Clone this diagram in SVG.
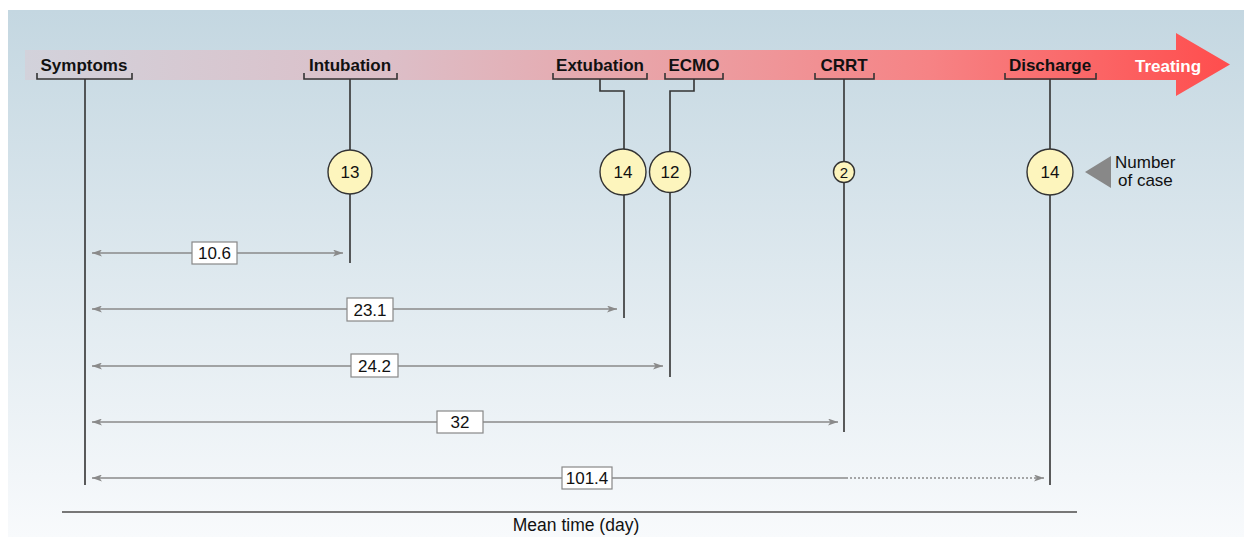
<svg xmlns="http://www.w3.org/2000/svg" width="1244" height="537" viewBox="0 0 1244 537">
<defs>
<linearGradient id="bg" x1="0" y1="0" x2="0" y2="1">
<stop offset="0" stop-color="#c4d7e1"/>
<stop offset="1" stop-color="#f8fafc"/>
</linearGradient>
<linearGradient id="band" gradientUnits="userSpaceOnUse" x1="25" y1="0" x2="1230" y2="0">
<stop offset="0" stop-color="#d2d2db"/>
<stop offset="0.3" stop-color="#dcbfc8"/>
<stop offset="0.55" stop-color="#eb9fa3"/>
<stop offset="0.75" stop-color="#f68385"/>
<stop offset="1" stop-color="#ff4d4d"/>
</linearGradient>
<marker id="ah" viewBox="0 0 10 7" refX="10" refY="3.5" markerWidth="10" markerHeight="7" markerUnits="userSpaceOnUse" orient="auto-start-reverse">
<path d="M0,0 L10,3.5 L0,7 L2.5,3.5 z" fill="#8a8a8a"/>
</marker>
</defs>
<style>
.lbl{font-family:"Liberation Sans",Arial,sans-serif;font-weight:bold;font-size:17px;fill:#111;text-anchor:middle}
.num{font-family:"Liberation Sans",Arial,sans-serif;font-size:17px;fill:#111;text-anchor:middle}
.txt{font-family:"Liberation Sans",Arial,sans-serif;font-size:17px;fill:#111}
.brk{fill:none;stroke:#333;stroke-width:1.6}
.vl{fill:none;stroke:#333;stroke-width:1.6}
.circ{fill:#fdf5bd;stroke:#333;stroke-width:1.4}
.dim{stroke:#8a8a8a;stroke-width:1.6;fill:none}
.box{fill:#fff;stroke:#888;stroke-width:1.2}
</style>
<rect x="0" y="0" width="1244" height="537" fill="#ffffff"/>
<rect x="8" y="10" width="1236" height="527" fill="url(#bg)"/>
<g id="timeline-arrow">
<path d="M25,50 H1176 V33 L1230,64.5 L1176,96 V80 H25 z" fill="url(#band)"/>
<text x="1168" y="72" class="lbl" style="fill:#fff">Treating</text>
</g>
<g id="connectors">
<line class="dim" x1="92" y1="253" x2="343" y2="253" marker-start="url(#ah)" marker-end="url(#ah)"/>
<line class="dim" x1="92" y1="309" x2="617" y2="309" marker-start="url(#ah)" marker-end="url(#ah)"/>
<line class="dim" x1="92" y1="366" x2="663" y2="366" marker-start="url(#ah)" marker-end="url(#ah)"/>
<line class="dim" x1="92" y1="422" x2="838" y2="422" marker-start="url(#ah)" marker-end="url(#ah)"/>
<line class="dim" x1="92" y1="478" x2="846" y2="478" marker-start="url(#ah)"/>
<line class="dim" x1="846" y1="478" x2="1044" y2="478" stroke-dasharray="2 2" marker-end="url(#ah)"/>
</g>
<g id="symptoms">
<text x="84" y="71" class="lbl">Symptoms</text>
<path class="brk" d="M37,73 V79 H132 V73"/>
<path class="vl" d="M85,79 V485"/>
</g>
<g id="intubation">
<text x="350" y="71" class="lbl">Intubation</text>
<path class="brk" d="M304,73 V79 H397 V73"/>
<path class="vl" d="M350,79 V263"/>
<circle class="circ" cx="350" cy="172" r="22"/>
<text x="350" y="178" class="num">13</text>
</g>
<g id="extubation">
<text x="600" y="71" class="lbl">Extubation</text>
<path class="brk" d="M553,73 V79 H647 V73"/>
<path class="vl" d="M600,79 V91 H624 V318"/>
<circle class="circ" cx="623" cy="172" r="23"/>
<text x="623" y="178" class="num">14</text>
</g>
<g id="ecmo">
<text x="694" y="71" class="lbl">ECMO</text>
<path class="brk" d="M665,73 V79 H723 V73"/>
<path class="vl" d="M694,79 V91 H670 V377"/>
<circle class="circ" cx="670" cy="172" r="20.5"/>
<text x="670" y="178" class="num">12</text>
</g>
<g id="crrt">
<text x="844" y="71" class="lbl">CRRT</text>
<path class="brk" d="M815,73 V79 H874 V73"/>
<path class="vl" d="M844,79 V432"/>
<circle class="circ" cx="844" cy="172" r="10.5"/>
<text x="844" y="177.5" class="num" style="font-size:15px">2</text>
</g>
<g id="discharge">
<text x="1050" y="71" class="lbl">Discharge</text>
<path class="brk" d="M1005,73 V79 H1096 V73"/>
<path class="vl" d="M1050,79 V485"/>
<circle class="circ" cx="1050" cy="172" r="23"/>
<text x="1050" y="178" class="num">14</text>
</g>
<g id="legend">
<path d="M1085,172 L1111,156 V188 z" fill="#888"/>
<text x="1115" y="168" class="txt">Number</text>
<text x="1118" y="186" class="txt">of case</text>
</g>
<g id="labels">
<rect class="box" x="192" y="242" width="45" height="22"/>
<text x="214.5" y="259" class="num">10.6</text>
<rect class="box" x="347" y="298" width="46" height="23"/>
<text x="370" y="315.5" class="num">23.1</text>
<rect class="box" x="351" y="354" width="47" height="23"/>
<text x="374.5" y="371.5" class="num">24.2</text>
<rect class="box" x="437" y="411" width="46" height="22"/>
<text x="460" y="428" class="num">32</text>
<rect class="box" x="562" y="467" width="50" height="22"/>
<text x="587" y="484" class="num">101.4</text>
</g>
<g id="axis">
<line x1="62" y1="512" x2="1077" y2="512" stroke="#777" stroke-width="2.2"/>
<text x="576" y="531" class="txt" style="text-anchor:middle;font-size:17.5px">Mean time (day)</text>
</g>
</svg>
